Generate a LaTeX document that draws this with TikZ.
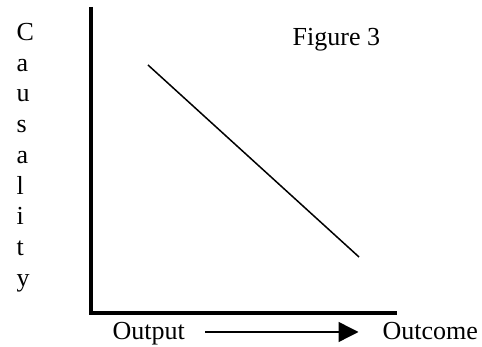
\documentclass[tikz,border=0pt]{standalone}
\usepackage{fontspec}
\setmainfont{Liberation Serif}
\usetikzlibrary{arrows.meta, positioning}

\begin{document}
\begin{tikzpicture}[
    x=1pt, y=1pt,
    axisline/.style={line width=4pt, line join=miter},
    trendline/.style={line width=1.5pt},
    flowarrow/.style={-{Triangle[length=20pt, width=20pt]}, line width=1.4pt},
    caption/.style={font=\fontsize{26}{30.75}\selectfont, inner sep=0pt},
]

% bounding box
\useasboundingbox (0,0) rectangle (482,347);

% Axes
\coordinate (ytop) at (90.5,340);
\coordinate (origin) at (90.5,33.5);
\coordinate (xend) at (397,33.5);
\draw[axisline] (ytop) -- (origin) -- (xend);

% Vertical axis label
\node[caption, align=left, anchor=north west] (causality) at (16.5,324)
    {C\\a\\u\\s\\a\\l\\i\\t\\y};

% Title
\node[caption, anchor=base west] (title) at (292.5,301) {Figure 3};

% Falling line
\coordinate (trend-start) at (148,282);
\coordinate (trend-end) at (359,90);
\draw[trendline] (trend-start) -- (trend-end);

% Horizontal axis labels
\node[caption, anchor=base west] (output) at (112.5,7) {Output};
\node[caption, anchor=base west] (outcome) at (382.5,7) {Outcome};
\draw[flowarrow] ([xshift=20pt, yshift=8pt]output.base east)
    -- ([xshift=-24pt, yshift=8pt]outcome.base west);

\end{tikzpicture}
\end{document}
